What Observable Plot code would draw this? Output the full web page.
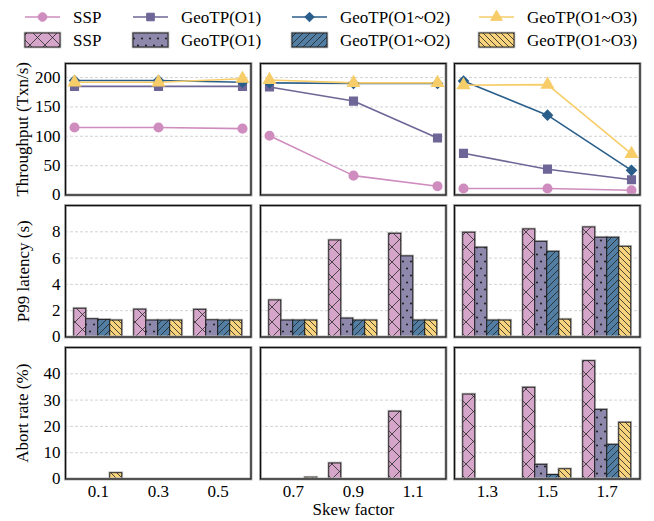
<!DOCTYPE html>
<html>
<head>
<meta charset="utf-8">
<script src="https://cdn.jsdelivr.net/npm/d3@7"></script>
<script src="https://cdn.jsdelivr.net/npm/@observablehq/plot@0.6"></script>
<style>
  html, body { margin: 0; padding: 0; background: #fff; }
  #root { position: relative; width: 654px; height: 521px; font-family: "Liberation Serif", "Times New Roman", serif; overflow: hidden; }
  .panel { position: absolute; }
  #root svg, #root svg text { font-family: "Liberation Serif", "Times New Roman", serif !important; }
</style>
</head>
<body>
<svg width="0" height="0" style="position:absolute">
  <defs>
    <pattern id="hatch0" patternUnits="userSpaceOnUse" width="15" height="15">
      <rect width="15" height="15" fill="#d5a6c9"/>
      <path d="M-1,-1L16,16M16,-1L-1,16" stroke="#2a2a2a" stroke-width="0.8"/>
    </pattern>
    <pattern id="hatch1" patternUnits="userSpaceOnUse" width="8" height="14">
      <rect width="8" height="14" fill="#8e88ac"/>
      <circle cx="2" cy="3.5" r="1.1" fill="#222"/>
      <circle cx="6" cy="10.5" r="1.1" fill="#222"/>
    </pattern>
    <pattern id="hatch2" patternUnits="userSpaceOnUse" width="7" height="7">
      <rect width="7" height="7" fill="#527ea4"/>
      <path d="M-1,8L8,-1M-3,3L3,-3M4,10L10,4" stroke="#222" stroke-width="0.8"/>
    </pattern>
    <pattern id="hatch3" patternUnits="userSpaceOnUse" width="6" height="6">
      <rect width="6" height="6" fill="#f7d37e"/>
      <path d="M-1,-1L7,7M-3,3L3,9M3,-3L9,3" stroke="#222" stroke-width="0.8"/>
    </pattern>
  </defs>
</svg>
<div id="root"></div>
<script>
// ---------------- data ----------------
const series = ["SSP", "GeoTP(O1)", "GeoTP(O1~O2)", "GeoTP(O1~O3)"];
const skewFactors = ["0.1", "0.3", "0.5", "0.7", "0.9", "1.1", "1.3", "1.5", "1.7"];

const throughputSSP = [115, 115, 113, 101, 33, 15, 11, 11, 8];
const throughputO1  = [185, 185, 185, 184, 160, 97, 71, 44, 26];
const throughputO12 = [195, 195, 192, 191, 190, 190, 194, 136, 42];
const throughputO13 = [192, 192, 198, 196, 191, 191, 187, 188, 70];

const latencySSP = [2.15, 2.08, 2.07, 2.78, 7.34, 7.85, 7.93, 8.18, 8.33];
const latencyO1  = [1.35, 1.25, 1.27, 1.25, 1.40, 6.13, 6.79, 7.24, 7.55];
const latencyO12 = [1.30, 1.25, 1.25, 1.25, 1.25, 1.25, 1.25, 6.48, 7.55];
const latencyO13 = [1.25, 1.25, 1.25, 1.25, 1.25, 1.25, 1.25, 1.32, 6.86];

const abortSSP = [0, 0, 0, 0, 5.9, 25.6, 32.1, 34.7, 44.8];
const abortO1  = [0, 0, 0, 0, 0, 0, 0, 5.4, 26.3];
const abortO12 = [0, 0, 0, 0, 0, 0, 0, 1.5, 13.0];
const abortO13 = [2.2, 0, 0, 0.5, 0, 0, 0, 3.7, 21.4];

const throughputTicks = [0, 50, 100, 150, 200];
const latencyTicks = [0, 2, 4, 6, 8];
const abortTicks = [0, 10, 20, 30, 40];

// ---------------- styles ----------------
const lineColors = ["#cf8cbe", "#6e6696", "#2a5e8a", "#f7cd69"];
const hatchFills = ["url(#hatch0)", "url(#hatch1)", "url(#hatch2)", "url(#hatch3)"];
const symbols = ["circle", "square", "diamond2", "triangle"];
const d3symbols = [d3.symbolCircle, d3.symbolSquare, d3.symbolDiamond2, d3.symbolTriangle];
const FONT = '"Liberation Serif", "Times New Roman", serif';

const metrics = [
  {label: "Throughput (Txn/s)", values: [throughputSSP, throughputO1, throughputO12, throughputO13], ticks: throughputTicks, max: 224, kind: "line", labelOffset: 50},
  {label: "P99 latency (s)", values: [latencySSP, latencyO1, latencyO12, latencyO13], ticks: latencyTicks, max: 10, kind: "bar", labelOffset: 49},
  {label: "Abort rate (%)", values: [abortSSP, abortO1, abortO12, abortO13], ticks: abortTicks, max: 50, kind: "bar", labelOffset: 50}
];

// ---------------- layout ----------------
const PW = 185.5, PH = 131.5;
const colLeft = [65, 259.5, 454];
const rowTop = [63, 205, 347];

const root = document.getElementById("root");

function makePanel(r, c) {
  const m = metrics[r];
  const left = c === 0, bottom = r === 2;
  const mL = left ? 65 : 3, mT = 3, mR = 4, mB = bottom ? 46 : 3;
  const W = PW + mL + mR, H = PH + mT + mB;
  const skews = skewFactors.slice(c * 3, c * 3 + 3);
  const rows = series.flatMap((s, j) => skews.map((k, i) => ({series: s, j, i, skew: k, value: m.values[j][c * 3 + i]})));

  const y = {
    domain: [0, m.max], ticks: m.ticks, tickSize: 0, tickPadding: 5,
    axis: left ? "left" : null, label: left ? m.label : null,
    labelAnchor: "center", labelOffset: m.labelOffset, labelArrow: false
  };
  const grid = Plot.ruleY(m.ticks.filter(t => t > 0), {stroke: "#c8c8c8", strokeWidth: 0.8, strokeDasharray: "3,2"});
  const frames = [
    Plot.frame({stroke: "#b5b5b5", strokeWidth: 3}),
    Plot.frame({stroke: "#111", strokeWidth: 1.2})
  ];
  let opts;
  if (m.kind === "line") {
    opts = {
      x: {type: "point", domain: skews, padding: 0.1, axis: null},
      color: {domain: series, range: lineColors},
      symbol: {domain: series, range: symbols},
      marks: [
        grid,
        Plot.line(rows, {x: "skew", y: "value", z: "series", stroke: "series", strokeWidth: 1.6}),
        Plot.dot(rows, {x: "skew", y: "value", symbol: "series", fill: "series", stroke: "series", r: 4.3}),
        ...frames
      ]
    };
  } else {
    const x1 = d => d.i - 0.4 + d.j * 0.2;
    const x2 = d => d.i - 0.2 + d.j * 0.2;
    opts = {
      x: {
        type: "linear", domain: [-0.546, 2.546], ticks: [0, 1, 2], tickFormat: i => skews[i],
        tickSize: 0, tickPadding: 6, axis: bottom ? "bottom" : null,
        label: (bottom && c === 1) ? "Skew factor" : null, labelAnchor: "center", labelOffset: 36, labelArrow: false
      },
      color: {type: "ordinal", domain: series, range: hatchFills},
      marks: [
        grid,
        Plot.rect(rows, {x1, x2, y1: 0, y2: "value", fill: "none", stroke: "#9a9a9a", strokeOpacity: 0.7, strokeWidth: 2.6}),
        Plot.rect(rows, {x1, x2, y1: 0, y2: "value", fill: "series", stroke: "#1a1a1a", strokeWidth: 0.9}),
        ...frames
      ]
    };
  }
  const svg = Plot.plot({
    width: W, height: H,
    marginLeft: mL, marginRight: mR, marginTop: mT, marginBottom: mB,
    y,
    style: {fontFamily: FONT, fontSize: "17px", background: "transparent", overflow: "visible", maxWidth: "none", color: "#000"},
    ...opts
  });
  const div = document.createElement("div");
  div.className = "panel";
  div.style.left = (colLeft[c] - mL) + "px";
  div.style.top = (rowTop[r] - mT) + "px";
  div.style.width = W + "px";
  div.style.height = H + "px";
  div.appendChild(svg);
  root.appendChild(div);
}

for (let r = 0; r < 3; r++) for (let c = 0; c < 3; c++) makePanel(r, c);

// ---------------- legend ----------------
const legX = [25, 133, 292, 479];
const legRowY = [17, 40];
const leg = d3.create("svg").attr("width", 654).attr("height", 60)
  .style("position", "absolute").style("left", "0px").style("top", "0px")
  .style("font-family", FONT).style("font-size", "17px");
series.forEach((s, j) => {
  const x0 = legX[j];
  const g = leg.append("g");
  g.append("line").attr("x1", x0).attr("x2", x0 + 35).attr("y1", legRowY[0]).attr("y2", legRowY[0])
    .attr("stroke", lineColors[j]).attr("stroke-width", 1.6);
  g.append("path").attr("d", d3.symbol(d3symbols[j], Math.PI * 4.3 * 4.3)())
    .attr("transform", `translate(${x0 + 17.5},${legRowY[0]})`).attr("fill", lineColors[j]).attr("stroke", lineColors[j]);
  g.append("text").attr("x", x0 + 48).attr("y", legRowY[0]).attr("dy", "0.35em").text(s);
  g.append("rect").attr("x", x0).attr("y", legRowY[1] - 7).attr("width", 35).attr("height", 14)
    .attr("fill", "none").attr("stroke", "#9a9a9a").attr("stroke-opacity", 0.7).attr("stroke-width", 2.6);
  g.append("rect").attr("x", x0).attr("y", legRowY[1] - 7).attr("width", 35).attr("height", 14)
    .attr("fill", hatchFills[j]).attr("stroke", "#1a1a1a").attr("stroke-width", 0.9);
  g.append("text").attr("x", x0 + 48).attr("y", legRowY[1]).attr("dy", "0.35em").text(s);
});
root.appendChild(leg.node());
</script>
</body>
</html>
